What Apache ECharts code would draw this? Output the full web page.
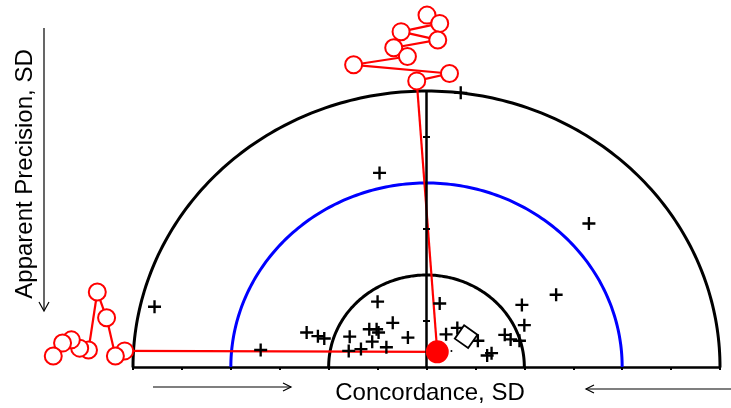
<!DOCTYPE html>
<html>
<head>
<meta charset="utf-8">
<script src="https://cdn.jsdelivr.net/npm/echarts@6/dist/echarts.min.js"></script>
<style>
  html, body { margin: 0; padding: 0; background: #fff; }
  #chart { width: 731px; height: 408px; }
</style>
</head>
<body>
<div id="chart"></div>
<script>
// rings at 2, 4 and 6 SD
const ringRadii = [2, 4, 6];
const ringColors = ['#000000', '#0000ff', '#000000'];

// small marks on the centre line
const centreTicks = [1, 3, 5];

// individual results (+)
const crossPoints = [
  [0.70, 5.96], [-0.96, 4.22], [3.32, 3.12], [2.65, 1.57], [-5.56, 1.31],
  [-3.39, 0.37], [-1.00, 1.42], [-2.45, 0.75], [-2.22, 0.67], [-2.09, 0.62],
  [-1.57, 0.66], [-1.59, 0.35], [-1.34, 0.39], [-1.17, 0.82], [-1.02, 0.82],
  [-0.98, 0.75], [-1.11, 0.55], [-0.69, 0.96], [-0.82, 0.43], [-0.38, 0.64],
  [0.27, 1.38], [0.40, 0.71], [0.63, 0.85], [1.05, 0.57], [1.24, 0.25],
  [1.33, 0.30], [1.95, 1.35], [2.00, 0.91], [1.60, 0.70], [1.72, 0.60],
  [1.90, 0.57]
];

// open diamond
const diamondPoint = [0.81, 0.66];
// tiny dot next to the mean
const dotPoint = [0.51, 0.35];

// red trail (open circles), top cluster -> mean -> left cluster
const trailPoints = [
  [0.01, 7.65], [0.27, 7.47], [-0.52, 7.29], [0.23, 7.11], [-0.67, 6.94],
  [-0.39, 6.75], [-1.49, 6.57], [0.47, 6.38], [-0.20, 6.22],
  [0.22, 0.33],
  [-6.17, 0.35], [-6.36, 0.24], [-6.54, 1.07], [-6.73, 1.63], [-6.91, 0.37],
  [-7.09, 0.41], [-7.26, 0.59], [-7.44, 0.52], [-7.63, 0.24]
];
// filled red mean
const meanPoint = [0.22, 0.33];

const plusPath = 'path://M41,0H59V41H100V59H59V100H41V59H0V41H41Z';
const font = 'Liberation Sans, Arial, sans-serif';

let chart = echarts.init(document.getElementById('chart'));

let option = {
  animation: false,
  backgroundColor: '#fff',
  grid: { left: 133, right: 11, top: 91, bottom: 41, outerBoundsMode: 'none' },
  xAxis: {
    type: 'value',
    min: -6,
    max: 6,
    interval: 1,
    axisLine: { show: true, onZero: false, lineStyle: { color: '#000', width: 2.5 } },
    axisTick: { show: true, length: 3, lineStyle: { color: '#000', width: 2 } },
    axisLabel: { show: false },
    splitLine: { show: false }
  },
  yAxis: {
    type: 'value',
    min: 0,
    max: 6,
    show: false
  },
  graphic: [
    // y title with arrow
    {
      type: 'text', x: 25, y: 174, rotation: Math.PI / 2,
      style: { text: 'Apparent Precision, SD', fontSize: 24, fontFamily: font, fill: '#000', align: 'center', verticalAlign: 'middle' }
    },
    { type: 'line', shape: { x1: 44, y1: 28, x2: 44, y2: 310 }, style: { stroke: '#000', lineWidth: 1.2 } },
    { type: 'polyline', shape: { points: [[39, 302], [44, 311], [49, 302]] }, style: { stroke: '#000', lineWidth: 1.2, fill: null } },
    // x title with arrows
    {
      type: 'text', x: 430, y: 393,
      style: { text: 'Concordance, SD', fontSize: 24, fontFamily: font, fill: '#000', align: 'center', verticalAlign: 'middle' }
    },
    { type: 'line', shape: { x1: 153, y1: 387, x2: 291, y2: 387 }, style: { stroke: '#000', lineWidth: 1.2 } },
    { type: 'polyline', shape: { points: [[283, 383], [291, 387], [283, 391]] }, style: { stroke: '#000', lineWidth: 1.2, fill: null } },
    { type: 'line', shape: { x1: 586, y1: 389, x2: 731, y2: 389 }, style: { stroke: '#000', lineWidth: 1.2 } },
    { type: 'polyline', shape: { points: [[594, 385], [586, 389], [594, 393]] }, style: { stroke: '#000', lineWidth: 1.2, fill: null } }
  ],
  series: [
    {
      type: 'custom',
      data: ringRadii.map(r => [r]),
      silent: true,
      renderItem: function (params, api) {
        const r = api.value(0);
        const c = api.coord([0, 0]);
        const s = api.size([r, r]);
        const pts = [];
        for (let i = 0; i <= 180; i++) {
          const a = Math.PI * i / 180;
          pts.push([c[0] - s[0] * Math.cos(a), c[1] - s[1] * Math.sin(a)]);
        }
        return {
          type: 'polyline',
          shape: { points: pts },
          style: { stroke: ringColors[params.dataIndex], lineWidth: 3, fill: null }
        };
      }
    },
    {
      // centre line
      type: 'line',
      data: [[0, 0], [0, 6]],
      symbol: 'none',
      lineStyle: { color: '#000', width: 2.5 }
    },
    {
      type: 'scatter',
      data: centreTicks.map(v => [0, v]),
      symbol: 'rect',
      symbolSize: [7, 2],
      itemStyle: { color: '#000', opacity: 1 }
    },
    {
      type: 'scatter',
      data: crossPoints,
      symbol: plusPath,
      symbolSize: 13,
      clip: false,
      itemStyle: { color: '#000', opacity: 1 }
    },
    {
      type: 'scatter',
      data: [diamondPoint],
      symbol: 'diamond',
      symbolSize: [23, 23],
      symbolRotate: 10,
      itemStyle: { color: '#fff', borderColor: '#000', borderWidth: 1.8, opacity: 1 }
    },
    {
      type: 'scatter',
      data: [dotPoint],
      symbolSize: 2,
      itemStyle: { color: '#000', opacity: 1 }
    },
    {
      // red trail segments
      type: 'custom',
      data: trailPoints,
      clip: false,
      silent: true,
      renderItem: function (params, api) {
        const i = params.dataIndex;
        if (i >= trailPoints.length - 1) return null;
        const p0 = api.coord(trailPoints[i]);
        const p1 = api.coord(trailPoints[i + 1]);
        return {
          type: 'line',
          shape: { x1: p0[0], y1: p0[1], x2: p1[0], y2: p1[1] },
          style: { stroke: '#ff0000', lineWidth: 2.2 }
        };
      }
    },
    {
      type: 'scatter',
      data: trailPoints,
      clip: false,
      symbol: 'circle',
      symbolSize: 17,
      itemStyle: { color: '#fff', borderColor: '#ff0000', borderWidth: 2, opacity: 1 }
    },
    {
      type: 'scatter',
      data: [meanPoint],
      symbolSize: 23,
      clip: false,
      z: 5,
      itemStyle: { color: '#ff0000', opacity: 1 }
    }
  ]
};

chart.setOption(option);
</script>
</body>
</html>
